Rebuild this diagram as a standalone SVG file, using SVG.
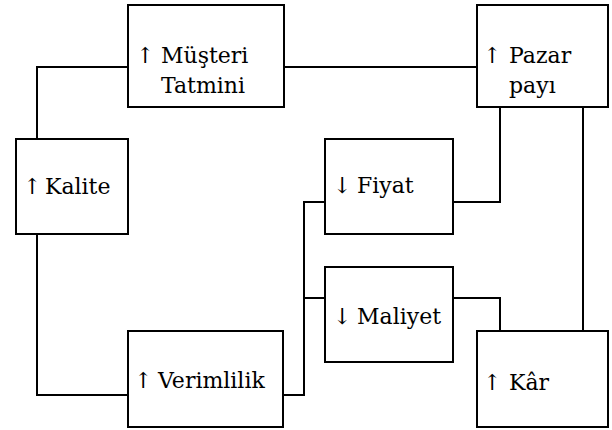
<svg xmlns="http://www.w3.org/2000/svg" width="612" height="430" viewBox="0 0 612 430">
  <style>
    .box { fill: #ffffff; stroke: #000000; stroke-width: 2; }
    .wire { fill: none; stroke: #000000; stroke-width: 2; }
    .lbl { font-family: "DejaVu Serif", serif; font-size: 22px; fill: #000000; }
  </style>
  <rect width="612" height="430" fill="#ffffff"/>

  <g id="connectors">
    <!-- Kalite to Müşteri Tatmini -->
    <polyline class="wire" points="37,139 37,67 128,67"/>
    <!-- Müşteri Tatmini to Pazar payı -->
    <line class="wire" x1="284" y1="67" x2="477" y2="67"/>
    <!-- Pazar payı to Fiyat -->
    <polyline class="wire" points="500,107 500,202 453,202"/>
    <!-- Pazar payı to Kâr -->
    <line class="wire" x1="583" y1="107" x2="583" y2="331"/>
    <!-- Kalite to Verimlilik -->
    <polyline class="wire" points="37,234 37,395 128,395"/>
    <!-- Verimlilik to Fiyat and Maliyet -->
    <polyline class="wire" points="283,395 304,395 304,202 325,202"/>
    <line class="wire" x1="304" y1="298" x2="325" y2="298"/>
    <!-- Maliyet to Kâr -->
    <polyline class="wire" points="453,298 500,298 500,331"/>
  </g>

  <g id="musteri-tatmini">
    <rect class="box" x="128" y="5" width="156" height="102"/>
    <text class="lbl" y="63"><tspan x="136">↑</tspan><tspan x="161">Müşteri</tspan></text>
    <text class="lbl" x="161" y="93">Tatmini</text>
  </g>

  <g id="pazar-payi">
    <rect class="box" x="477" y="5" width="131" height="102"/>
    <text class="lbl" y="63"><tspan x="483">↑</tspan><tspan x="509">Pazar</tspan></text>
    <text class="lbl" x="509" y="93">payı</text>
  </g>

  <g id="kalite">
    <rect class="box" x="16" y="139" width="112" height="95"/>
    <text class="lbl" y="194"><tspan x="23">↑</tspan><tspan x="45">Kalite</tspan></text>
  </g>

  <g id="fiyat">
    <rect class="box" x="325" y="139" width="128" height="95"/>
    <text class="lbl" y="193"><tspan x="333">↓</tspan><tspan x="357">Fiyat</tspan></text>
  </g>

  <g id="maliyet">
    <rect class="box" x="325" y="267" width="128" height="95"/>
    <text class="lbl" y="324"><tspan x="333">↓</tspan><tspan x="357">Maliyet</tspan></text>
  </g>

  <g id="verimlilik">
    <rect class="box" x="128" y="331" width="155" height="96"/>
    <text class="lbl" y="388"><tspan x="134">↑</tspan><tspan x="158">Verimlilik</tspan></text>
  </g>

  <g id="kar">
    <rect class="box" x="477" y="331" width="131" height="96"/>
    <text class="lbl" y="390"><tspan x="483">↑</tspan><tspan x="509">Kâr</tspan></text>
  </g>
</svg>
